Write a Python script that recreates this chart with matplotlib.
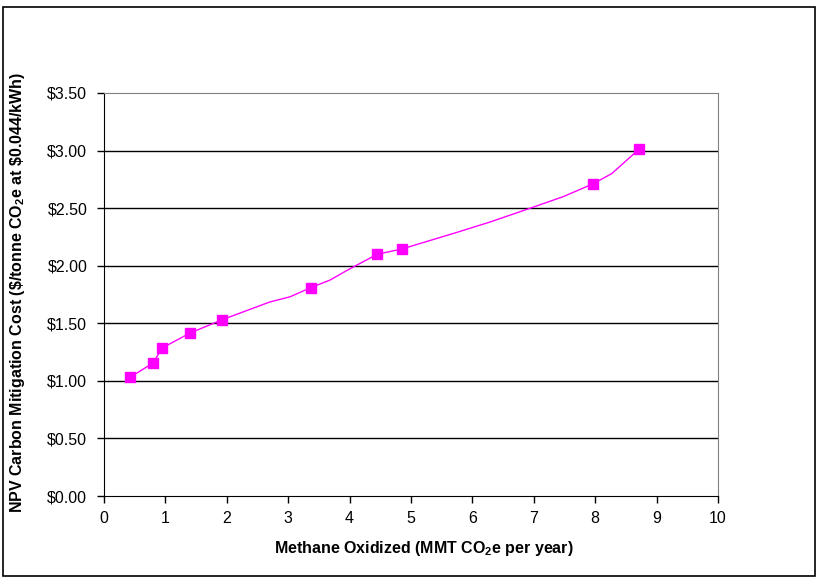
import matplotlib
matplotlib.use("Agg")
import matplotlib.pyplot as plt
from matplotlib.patches import Rectangle

plt.rcParams['font.family'] = ['Liberation Sans', 'DejaVu Sans']
plt.rcParams['mathtext.fontset'] = 'custom'
plt.rcParams['mathtext.rm'] = 'Liberation Sans'
plt.rcParams['mathtext.bf'] = 'Liberation Sans:bold'

# Curve (smoothed line) values
line_x = [0.42, 0.80, 0.945, 1.40, 1.92, 2.70, 3.03, 3.37, 3.68, 3.96, 4.45, 4.85,
          5.75, 6.29, 6.89, 7.48, 7.96, 8.27, 8.71]
line_y = [1.03, 1.155, 1.285, 1.415, 1.53, 1.685, 1.73, 1.81, 1.875, 1.96, 2.10, 2.145,
          2.29, 2.38, 2.49, 2.60, 2.71, 2.80, 3.01]

# Marker points
marker_x = [0.42, 0.80, 0.945, 1.40, 1.92, 3.37, 4.45, 4.85, 7.96, 8.71]
marker_y = [1.03, 1.155, 1.285, 1.415, 1.53, 1.81, 2.10, 2.145, 2.71, 3.01]

y_ticks = [0.0, 0.5, 1.0, 1.5, 2.0, 2.5, 3.0, 3.5]
y_tick_labels = ['$0.00', '$0.50', '$1.00', '$1.50', '$2.00', '$2.50', '$3.00', '$3.50']
x_ticks = list(range(0, 11))

fig = plt.figure(figsize=(8.17, 5.77), dpi=100)
ax = fig.add_axes([104/817, 81/577, (718-104)/817, (496-93)/577])

for yv in y_ticks[1:-1]:
    ax.axhline(yv, color='black', lw=1.0, zorder=1)

ax.plot(line_x, line_y, color='#FF00FF', lw=1.0, zorder=3)
ax.plot(marker_x, marker_y, linestyle='none', marker='s', markersize=6.5,
        color='#FF00FF', zorder=4)

ax.set_xlim(0, 10)
ax.set_ylim(0, 3.5)
ax.set_xticks(x_ticks)
ax.set_xticklabels([str(v) for v in x_ticks])
ax.set_yticks(y_ticks)
ax.set_yticklabels([s.replace('$', r'\$') for s in y_tick_labels])
ax.tick_params(axis='both', direction='out', length=5, width=1, labelsize=11.5,
               colors='black')
ax.tick_params(axis='x', pad=6)
ax.tick_params(axis='y', pad=7)
ax.spines['top'].set_color('#808080')
ax.spines['right'].set_color('#808080')
ax.spines['left'].set_color('black')
ax.spines['bottom'].set_color('black')

fig.text(424/817, 1 - 549/577, r'Methane Oxidized (MMT CO$_\mathbf{2}$e per year)',
         fontsize=11.5, fontweight='bold', ha='center', va='center')
fig.text(18/817, 1 - 293/577,
         r'NPV Carbon Mitigation Cost (\$/tonne CO$_\mathbf{2}$e at \$0.044/kWh)',
         fontsize=11.5, fontweight='bold', ha='center', va='center', rotation=90)

fig.patches.append(Rectangle((3/817, 1/577), 812/817, 569/577, transform=fig.transFigure,
                             fill=False, edgecolor='black', lw=1.2))

fig.savefig('out.png', dpi=100)
